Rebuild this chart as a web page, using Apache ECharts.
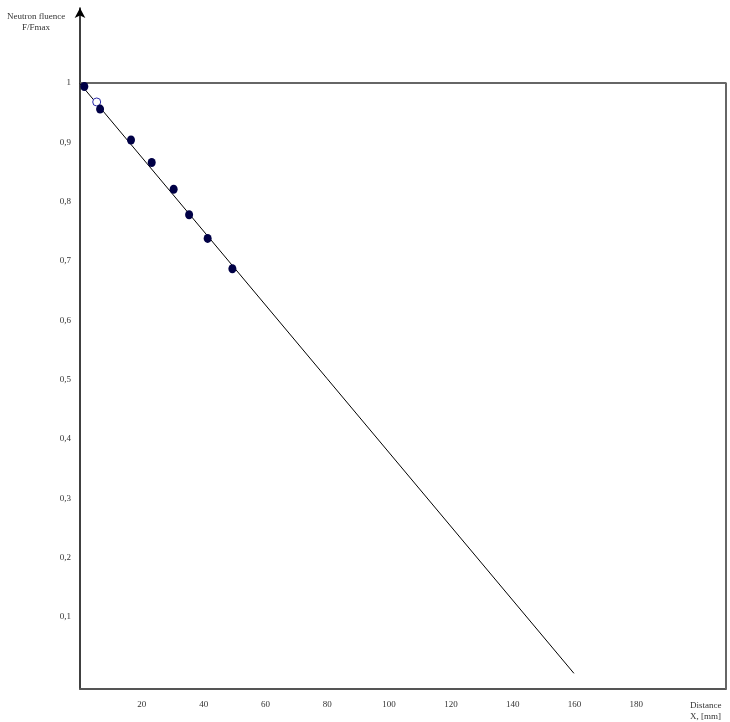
<!DOCTYPE html>
<html>
<head>
<meta charset="utf-8">
<script src="https://cdn.jsdelivr.net/npm/echarts@6/dist/echarts.min.js"></script>
<style>html,body{margin:0;padding:0;background:#fff}#c{width:730px;height:722px}</style>
</head>
<body>
<div id="c"></div>
<script>
// Measured points (filled)
const measX = [1.4, 6.5, 16.5, 23.2, 30.3, 35.3, 41.3, 49.3];
const measY = [0.994, 0.956, 0.904, 0.866, 0.821, 0.778, 0.738, 0.687];
// Hollow point
const openX = [5.4];
const openY = [0.968];
// Fitted line end points
const fitX = [0, 159.8];
const fitY = [0.999, 0.005];
// Tick labels
const xTicks = [20, 40, 60, 80, 100, 120, 140, 160, 180];
const yTicks = [0.1, 0.2, 0.3, 0.4, 0.5, 0.6, 0.7, 0.8, 0.9, 1];
// Axis extents
const xMin = 0, xMax = 209;
const yMin = -0.0214, yMax = 1.1264, yFrame = 1;

const zip = (a, b) => a.map((v, i) => [v, b[i]]);
const font = '"Liberation Serif", "DejaVu Serif", serif';

const chart = echarts.init(document.getElementById('c'), null, {renderer: 'canvas'});
chart.setOption({
  animation: false,
  backgroundColor: '#fff',
  grid: {left: 80, right: 4, top: 8, bottom: 33, containLabel: false},
  xAxis: {
    type: 'value', min: xMin, max: xMax,
    axisLine: {show: true, onZero: false, lineStyle: {color: '#555', width: 2}},
    axisTick: {show: false},
    splitLine: {show: false},
    axisLabel: {customValues: xTicks, color: '#333', fontFamily: font, fontSize: 9, margin: 11}
  },
  yAxis: {
    type: 'value', min: yMin, max: yMax,
    axisLine: {show: true, onZero: false, symbol: ['none', 'arrow'], symbolSize: [8, 10], lineStyle: {color: '#000', width: 1.5}},
    axisTick: {show: false},
    splitLine: {show: false},
    axisLabel: {
      customValues: yTicks, color: '#333', fontFamily: font, fontSize: 9, margin: 9,
      formatter: v => (Math.abs(v - 1) < 1e-9 ? '1' : v.toFixed(1).replace('.', ','))
    }
  },
  graphic: [
    {type: 'text', left: 7, top: 12, style: {text: 'Neutron fluence', font: '9px ' + font, fill: '#333'}},
    {type: 'text', left: 22, top: 23, style: {text: 'F/Fmax', font: '9px ' + font, fill: '#333'}},
    {type: 'text', left: 690, top: 701, style: {text: 'Distance', font: '9px ' + font, fill: '#333'}},
    {type: 'text', left: 690, top: 712, style: {text: 'X, [mm]', font: '9px ' + font, fill: '#333'}}
  ],
  series: [
    {
      type: 'line', name: 'frame', clip: false, silent: true, symbol: 'none',
      data: [[xMin, yFrame], [xMax, yFrame], [xMax, yMin]],
      lineStyle: {color: '#666', width: 2}, z: 1
    },
    {
      type: 'line', name: 'fit', symbol: 'none', silent: true,
      data: zip(fitX, fitY),
      lineStyle: {color: '#000', width: 1}, z: 2
    },
    {
      type: 'scatter', name: 'open', symbol: 'circle', symbolSize: 8,
      data: zip(openX, openY),
      itemStyle: {color: '#fff', borderColor: '#2a2aa8', borderWidth: 1, opacity: 1}, z: 3
    },
    {
      type: 'scatter', name: 'measured', symbol: 'circle', symbolSize: [8, 9],
      data: zip(measX, measY),
      itemStyle: {color: '#000046', opacity: 1}, z: 4
    }
  ]
});
</script>
</body>
</html>
